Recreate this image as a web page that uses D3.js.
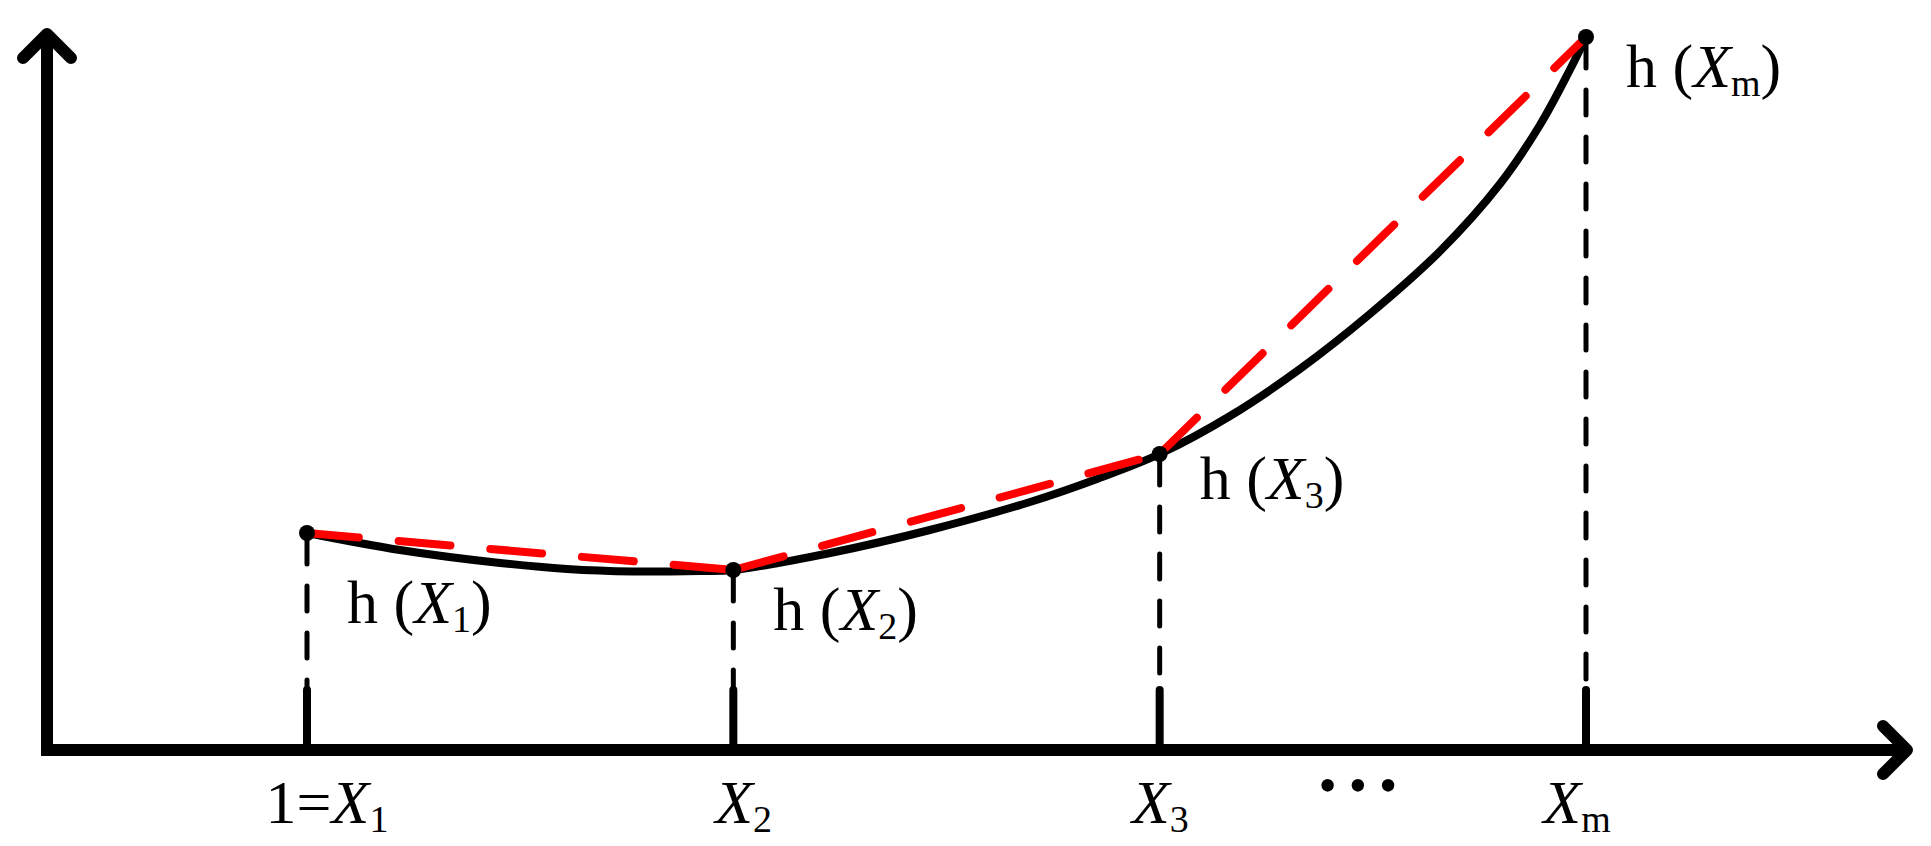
<!DOCTYPE html>
<html>
<head>
<meta charset="utf-8">
<script src="https://cdn.jsdelivr.net/npm/d3@7"></script>
<style>
  html, body { margin: 0; padding: 0; background: #fff; }
  svg { display: block; }
  text { font-family: "Liberation Serif", "Times New Roman", serif; fill: #000; }
</style>
</head>
<body>
<svg id="chart" width="1931" height="846"></svg>
<script>
// ---------------- data ----------------
const nodeX = [1, 2, 3, 4];                 // positions of X1, X2, X3, Xm
const nodeH = [2.17, 1.80, 2.96, 7.13];     // h(X) at each node
const nodeSub = ["1", "2", "3", "m"];       // subscripts
const tickPrefix = ["1=", "", "", ""];      // prefix of tick labels

// true function h(X)
const curveX = [1.000, 1.218, 1.453, 1.610, 1.765, 1.922, 2.000, 2.227, 2.461, 2.696, 2.853, 3.000,
                3.165, 3.329, 3.493, 3.658, 3.798, 3.892, 3.962, 4.000];
const curveY = [2.17, 2.00, 1.87, 1.81, 1.785, 1.79, 1.80, 1.97, 2.20, 2.48, 2.71, 2.96,
                3.34, 3.81, 4.36, 4.99, 5.66, 6.25, 6.80, 7.13];

// ---------------- layout ----------------
const W = 1931, H = 846;
const svg = d3.select("#chart");
svg.append("rect").attr("width", W).attr("height", H).attr("fill", "#fff");

const x = d3.scaleLinear().domain([1, 4]).range([307, 1586]);
const y = d3.scaleLinear().domain([0, 7.13]).range([750, 37]);
const xLabel = d3.scaleLinear().domain([1, 4]).range([327, 1577]);

const originX = 47, originY = y(0);
const axisTopY = 34, axisRightX = 1907, head = 24;

// axes
svg.append("path")
  .attr("d", `M${originX},${axisTopY} L${originX},${originY} L${axisRightX},${originY}`)
  .attr("fill", "none").attr("stroke", "#000").attr("stroke-width", 12)
  .attr("stroke-linejoin", "miter");
svg.append("path")
  .attr("d", `M${originX - head},${axisTopY + head} L${originX},${axisTopY} L${originX + head},${axisTopY + head}`)
  .attr("fill", "none").attr("stroke", "#000").attr("stroke-width", 12)
  .attr("stroke-linejoin", "round").attr("stroke-linecap", "round");
svg.append("path")
  .attr("d", `M${axisRightX - head},${originY - head} L${axisRightX},${originY} L${axisRightX - head},${originY + head}`)
  .attr("fill", "none").attr("stroke", "#000").attr("stroke-width", 12)
  .attr("stroke-linejoin", "round").attr("stroke-linecap", "round");

const nodes = nodeX.map((v, i) => ({ x: v, h: nodeH[i], sub: nodeSub[i], pre: tickPrefix[i] }));

// vertical dashed guides
svg.selectAll("line.guide").data(nodes).enter().append("line")
  .attr("class", "guide")
  .attr("x1", d => x(d.x)).attr("x2", d => x(d.x))
  .attr("y1", d => y(d.h) + 6).attr("y2", originY - 62)
  .attr("stroke", "#000").attr("stroke-width", 5)
  .attr("stroke-dasharray", "25,22").attr("stroke-linecap", "round");

// solid ticks
svg.selectAll("line.tick").data(nodes).enter().append("line")
  .attr("class", "tick")
  .attr("x1", d => x(d.x)).attr("x2", d => x(d.x))
  .attr("y1", originY - 60).attr("y2", originY)
  .attr("stroke", "#000").attr("stroke-width", 8).attr("stroke-linecap", "round");

// black curve
const curvePts = curveX.map((v, i) => [v, curveY[i]]);
svg.append("path")
  .attr("d", d3.line().x(d => x(d[0])).y(d => y(d[1])).curve(d3.curveCatmullRom.alpha(0.5))(curvePts))
  .attr("fill", "none").attr("stroke", "#000").attr("stroke-width", 8);

// red dashed piecewise-linear interpolation (each segment dashed separately)
const segs = d3.pairs(nodes);
svg.selectAll("path.seg").data(segs).enter().append("path")
  .attr("class", "seg")
  .attr("d", d => d3.line().x(p => x(p.x)).y(p => y(p.h))(d))
  .attr("fill", "none").attr("stroke", "#ff0000").attr("stroke-width", 8)
  .attr("stroke-dasharray", "52,40").attr("stroke-linecap", "round");

// node dots
svg.selectAll("circle.node").data(nodes).enter().append("circle")
  .attr("class", "node")
  .attr("cx", d => x(d.x)).attr("cy", d => y(d.h)).attr("r", 8).attr("fill", "#000");

// h(X) labels
const hLabelDx = 40;
const hLabelDy = [90, 60, 45, 50];
const fs = 62, subFs = 38, subShift = 9;
nodes.forEach((d, i) => {
  const t = svg.append("text")
    .attr("x", x(d.x) + hLabelDx).attr("y", y(d.h) + hLabelDy[i])
    .attr("font-size", fs);
  t.append("tspan").text("h (");
  t.append("tspan").attr("font-style", "italic").text("X");
  t.append("tspan").attr("font-size", subFs).attr("dy", subShift).text(d.sub);
  t.append("tspan").attr("dy", -subShift).text(")");
});

// x tick labels
nodes.forEach((d) => {
  const t = svg.append("text")
    .attr("x", xLabel(d.x)).attr("y", 823)
    .attr("font-size", fs).attr("text-anchor", "middle");
  if (d.pre) t.append("tspan").text(d.pre);
  t.append("tspan").attr("font-style", "italic").text("X");
  t.append("tspan").attr("font-size", subFs).attr("dy", subShift).text(d.sub);
});

// ellipsis between X3 and Xm
svg.append("text")
  .attr("x", (x(3) + x(4)) / 2 - 9).attr("y", 803)
  .attr("font-size", 52).attr("text-anchor", "middle")
  .attr("letter-spacing", 12)
  .text("•••");
</script>
</body>
</html>
